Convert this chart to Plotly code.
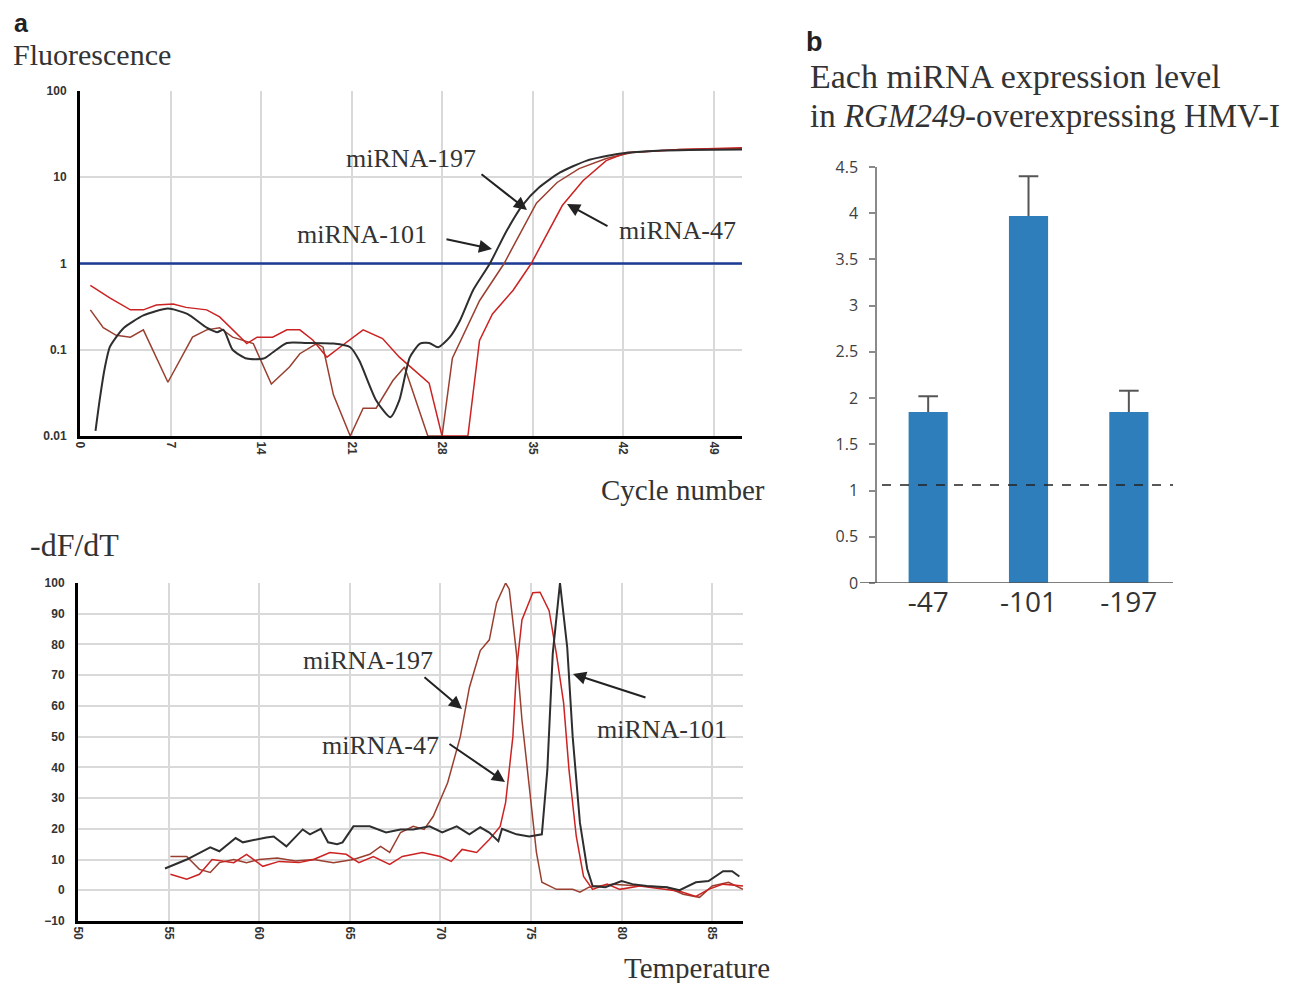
import plotly.graph_objects as go

W, H = 1294, 983
PAGE_OFFSET = 8  # default body margin of the page the figure is shown in

# ---------------- data: panel a (top) amplification curves ----------------
mir101_cycle = [1.2, 1.55, 1.93, 2.3, 2.8, 3.4, 4.9, 6.8, 8.3, 9.8, 10.6, 11.1, 11.8, 12.9, 14.2, 14.9, 16.0, 17.5,
                19.6, 20.9, 21.6, 22.9, 24.0, 24.7, 25.5, 26.3, 27.0, 27.7, 28.6, 29.4, 30.4, 31.7, 33.0,
                34.2, 35.5, 37.1, 39.2, 41.7, 45.0, 51.2]
mir101_fluor = [0.0115, 0.028, 0.063, 0.107, 0.14, 0.18, 0.25, 0.30, 0.26, 0.18, 0.16, 0.17, 0.10, 0.079, 0.079, 0.093,
                0.12, 0.12, 0.118, 0.107, 0.075, 0.026, 0.0165, 0.026, 0.081, 0.118, 0.12, 0.107, 0.14, 0.22,
                0.49, 1.0, 2.4, 4.7, 7.6, 11.3, 15.6, 18.7, 20.4, 21.0]

mir197_cycle = [0.8, 1.8, 2.8, 3.9, 4.9, 6.8, 8.7, 9.8, 10.8, 11.8, 13.4, 14.8, 16.2, 17.0, 18.3, 18.8, 19.6,
                20.9, 21.9, 22.9, 24.2, 25.1, 26.9, 28.0, 28.8, 29.9, 30.9, 32.8, 34.0, 35.3, 36.9, 38.6,
                40.7, 42.7, 46.4, 51.2]
mir197_fluor = [0.29, 0.18, 0.147, 0.14, 0.17, 0.042, 0.14, 0.17, 0.18, 0.14, 0.118, 0.04, 0.063, 0.09, 0.118,
                0.107, 0.03, 0.01, 0.021, 0.021, 0.044, 0.063, 0.01, 0.01, 0.08, 0.18, 0.37, 1.0, 2.2, 5.0,
                8.7, 12.6, 16.5, 19.4, 21.0, 21.5]

mir47_cycle = [0.8, 2.3, 3.9, 4.9, 5.9, 7.2, 8.2, 9.8, 10.8, 11.8, 12.9, 13.7, 14.9, 16.0, 17.0, 18.0, 19.1,
               20.1, 21.9, 23.4, 24.7, 27.0, 28.0, 30.0, 30.9, 31.9, 33.5, 34.9, 36.1, 37.3, 38.9, 40.7,
               42.3, 46.4, 51.2]
mir47_fluor = [0.556, 0.40, 0.29, 0.29, 0.33, 0.34, 0.31, 0.29, 0.24, 0.17, 0.118, 0.14, 0.14, 0.17, 0.17, 0.13,
               0.082, 0.107, 0.17, 0.135, 0.082, 0.041, 0.01, 0.01, 0.128, 0.26, 0.49, 1.0, 2.2, 4.7, 9.1,
               15.6, 19.4, 21.0, 22.0]

threshold_cycle = [0, 51.2]
threshold_level = [1, 1]
cycle_ticks = [0, 7, 14, 21, 28, 35, 42, 49]
fluor_ticks = [0.01, 0.1, 1, 10, 100]
fluor_labels = ["0.01", "0.1", "1", "10", "100"]

# ---------------- data: panel a (bottom) melt curves ----------------
mir101_temp = [54.8, 56.0, 57.3, 57.8, 58.7, 59.1, 60.4, 60.8, 61.5, 62.4, 62.8, 63.4, 63.8, 64.3, 64.6,
               65.2, 66.1, 67.0, 67.8, 68.5, 69.4, 70.1, 70.9, 71.6, 72.2, 72.7, 73.2, 73.4, 74.2, 74.9,
               75.6, 75.9, 76.2, 76.6, 77.0, 77.3, 77.7, 78.1, 78.4, 79.1, 80.0, 80.6, 81.4, 82.5, 83.2,
               84.1, 84.8, 85.6, 86.1, 86.5]
mir101_dfdt = [7.1, 10, 14, 12.7, 17, 15.6, 17.2, 17.5, 14.3, 19.8, 18.2, 20, 15.6, 15, 15.6,
               20.8, 20.8, 18.8, 19.8, 19.8, 20.8, 18.8, 20.8, 18.2, 20.5, 18.8, 16, 20, 18.2, 17.5,
               18.2, 39, 77, 100, 79, 50, 22, 7, 1.4, 1, 3, 2, 1.4, 1, 0,
               2.6, 3, 6.2, 6.2, 4.5]

mir197_temp = [55.1, 56.0, 56.7, 57.3, 57.8, 58.6, 59.3, 60.0, 61.0, 62.0, 63.0, 64.1, 65.2, 66.1, 66.7,
               67.2, 67.8, 68.5, 69.1, 69.6, 70.4, 71.1, 71.6, 72.2, 72.7, 73.1, 73.6, 73.8, 74.2, 74.5,
               74.9, 75.3, 75.6, 76.4, 77.3, 77.7, 78.2, 79.5, 81.0, 82.5, 83.4, 84.3, 85.0, 85.9, 86.7]
mir197_dfdt = [11, 11, 6.8, 5.8, 9, 10, 9, 10, 10.5, 9.5, 10, 9, 10, 11.7, 14.3,
               12.3, 18.8, 20.8, 19.8, 24, 35, 50, 66, 78, 81.5, 93.5, 100, 98, 77, 55.5,
               34, 12.3, 2.6, 0.3, 0.3, -0.6, 1, 2, 1.4, 1, -1.3, -2.3, 1.4, 2.6, 0.3]

mir47_temp = [55.1, 56.0, 56.7, 57.4, 58.6, 59.3, 60.2, 61.1, 62.2, 63.0, 63.9, 64.8, 65.5, 66.3, 67.2,
              67.9, 69.0, 70.0, 70.6, 71.2, 72.0, 72.7, 73.3, 73.6, 74.0, 74.2, 74.5, 75.1, 75.5, 76.0,
              76.4, 76.8, 77.1, 77.5, 77.9, 78.4, 79.2, 79.9, 81.0, 82.3, 83.2, 84.1, 84.8, 85.6, 86.7]
mir47_dfdt = [5.2, 3.6, 5.2, 10, 9, 11.7, 7.8, 9.4, 9, 10, 12.3, 11.7, 9, 11, 8.4,
              11, 12.3, 11, 9.4, 13.3, 12.3, 16.5, 20.8, 28.6, 50, 71.8, 88, 96.8, 97, 91,
              77, 61, 39, 17.5, 4.5, 0.3, 2, 0.3, 1.4, 0.3, -0.3, -2, 0.3, 2, 1.4]

# ---------------- data: panel b bar chart ----------------
bar_categories = ["-47", "-101", "-197"]
bar_expression = [1.85, 3.97, 1.85]
bar_error = [0.17, 0.43, 0.23]
control_level = 1.06

# ---------------- styling ----------------
BLACK = "#2e2e2e"
RED = "#cc2222"
BROWN = "#9a3f30"
BLUE_TH = "#1c3a96"
BAR_BLUE = "#2e7ebb"
GRID = "#d9d9d9"
SERIF = "Liberation Serif"
SANS = "Liberation Sans"


def px(x):
    return (x - PAGE_OFFSET) / W


def py(y):
    return 1 - (y - PAGE_OFFSET) / H


fig = go.Figure()

# top panel traces
fig.add_trace(go.Scatter(x=threshold_cycle, y=threshold_level, mode="lines",
                         line=dict(color=BLUE_TH, width=2.5), xaxis="x", yaxis="y"))
fig.add_trace(go.Scatter(x=mir197_cycle, y=mir197_fluor, mode="lines",
                         line=dict(color=BROWN, width=1.5), xaxis="x", yaxis="y"))
fig.add_trace(go.Scatter(x=mir47_cycle, y=mir47_fluor, mode="lines",
                         line=dict(color=RED, width=1.5), xaxis="x", yaxis="y"))
fig.add_trace(go.Scatter(x=mir101_cycle, y=mir101_fluor, mode="lines",
                         line=dict(color=BLACK, width=2, shape="spline", smoothing=0.6),
                         xaxis="x", yaxis="y"))

# bottom panel traces
fig.add_trace(go.Scatter(x=mir197_temp, y=mir197_dfdt, mode="lines",
                         line=dict(color=BROWN, width=1.5), xaxis="x2", yaxis="y2"))
fig.add_trace(go.Scatter(x=mir47_temp, y=mir47_dfdt, mode="lines",
                         line=dict(color=RED, width=1.5), xaxis="x2", yaxis="y2"))
fig.add_trace(go.Scatter(x=mir101_temp, y=mir101_dfdt, mode="lines",
                         line=dict(color=BLACK, width=2), xaxis="x2", yaxis="y2"))

# bar panel
fig.add_trace(go.Bar(x=bar_categories, y=bar_expression, marker=dict(color=BAR_BLUE, line=dict(width=0)),
                     width=0.39,
                     error_y=dict(type="data", symmetric=False, array=bar_error,
                                  arrayminus=[0] * len(bar_error), color="#555555",
                                  thickness=2, width=0),
                     xaxis="x3", yaxis="y3"))
fig.add_trace(go.Scatter(x=bar_categories, y=[v + e for v, e in zip(bar_expression, bar_error)],
                         mode="markers",
                         marker=dict(symbol="line-ew-open", size=14, color="#555555",
                                     line=dict(color="#555555", width=2)),
                         xaxis="x3", yaxis="y3"))

tickfont_small = dict(family=SANS, size=12, color="#333333", weight="bold")

fig.update_layout(
    width=W, height=H, margin=dict(l=0, r=0, t=0, b=0, pad=0, autoexpand=False),
    paper_bgcolor="white", plot_bgcolor="white", showlegend=False,
    xaxis=dict(domain=[px(80), px(742)], range=[0, 51.2], tickvals=cycle_ticks, tickangle=90,
               showgrid=True, gridcolor=GRID, gridwidth=2, showline=True, linecolor="black",
               linewidth=3, zeroline=False, ticks="", tickfont=tickfont_small, anchor="y",
               automargin=False),
    yaxis=dict(domain=[py(436), py(91)], type="log", range=[-2, 2], tickvals=fluor_ticks,
               ticktext=fluor_labels, showgrid=True, gridcolor=GRID, gridwidth=2, showline=True,
               linecolor="black", linewidth=3, zeroline=False, ticks="", tickfont=tickfont_small,
               ticklabelstandoff=8, anchor="x", automargin=False),
    xaxis2=dict(domain=[px(78), px(743)], range=[50, 86.7], tick0=50, dtick=5, tickangle=90,
                showgrid=True, gridcolor=GRID, gridwidth=2, showline=True, linecolor="black",
                linewidth=3, zeroline=False, ticks="", tickfont=tickfont_small, anchor="y2",
                automargin=False),
    yaxis2=dict(domain=[py(921), py(583)], range=[-10, 100], tick0=-10, dtick=10,
                showgrid=True, gridcolor=GRID, gridwidth=2, showline=True, linecolor="black",
                linewidth=3, zeroline=False, ticks="", tickfont=tickfont_small,
                ticklabelstandoff=8, anchor="x2", automargin=False),
    xaxis3=dict(domain=[px(877), px(1173)], range=[-0.51, 2.44], type="category",
                showgrid=False, showline=False, zeroline=False, ticks="",
                tickfont=dict(family="Open Sans", size=28, color="#333333"), anchor="y3",
                automargin=False),
    yaxis3=dict(domain=[py(583), py(167)], range=[0, 4.5], tick0=0, dtick=0.5,
                showgrid=False, showline=True, linecolor="#8a8a8a", linewidth=1.5, zeroline=False,
                ticks="outside", ticklen=6, tickcolor="#8a8a8a", tickwidth=1.5,
                ticklabelstandoff=8,
                tickfont=dict(family="Open Sans", size=16, color="#404040"), anchor="x3",
                automargin=False),
)

# bar chart baseline and control dashed line
fig.add_shape(type="line", xref="paper", yref="y3", x0=px(860), x1=px(1173), y0=0, y1=0,
              line=dict(color="#555555", width=1.5))
fig.add_shape(type="line", xref="paper", yref="y3", x0=px(882), x1=px(1173),
              y0=control_level, y1=control_level,
              line=dict(color="#222222", width=1.5, dash="dash"))


# text labels
def text(t, x, y, size, xanchor="left", family=SERIF, color="#333333", weight="normal"):
    fig.add_annotation(text=t, x=px(x), y=py(y), xref="paper", yref="paper", showarrow=False,
                       xanchor=xanchor, yanchor="middle", borderpad=0,
                       font=dict(family=family, size=size, color=color, weight=weight))


text("a", 13, 22.5, 25, family=SANS, color="#222222", weight="bold")
text("b", 805, 42, 27, family=SANS, color="#222222", weight="bold")
text("Fluorescence", 12, 54, 30)
text("Cycle number", 766, 490, 29, xanchor="right")
text("-dF/dT", 29, 545, 32)
text("Temperature", 771, 968, 29, xanchor="right")
text("Each miRNA expression level", 809, 76, 34)
text("in <i>RGM249</i>-overexpressing HMV-I", 809, 116, 33)

# curve labels
text("miRNA-197", 411, 158, 26, xanchor="center")
text("miRNA-101", 362, 234, 26, xanchor="center")
text("miRNA-47", 677, 231, 26, xanchor="center")
text("miRNA-197", 368, 660, 26, xanchor="center")
text("miRNA-47", 380, 745, 26, xanchor="center")
text("miRNA-101", 662, 729, 26, xanchor="center")


def arrow(hx, hy, tx, ty):
    fig.add_annotation(text="", x=px(hx), y=py(hy), xref="paper", yref="paper", showarrow=True,
                       ax=tx - hx, ay=ty - hy, arrowhead=2, arrowsize=1.3, arrowwidth=2,
                       arrowcolor="#222222", font=dict(size=1))


arrow(527, 210, 480, 173)
arrow(492, 249, 445, 239)
arrow(567, 204, 609, 227)
arrow(462, 709, 423, 676)
arrow(505, 782, 448, 743)
arrow(573, 674, 647, 698)

fig.write_html("out.html")
